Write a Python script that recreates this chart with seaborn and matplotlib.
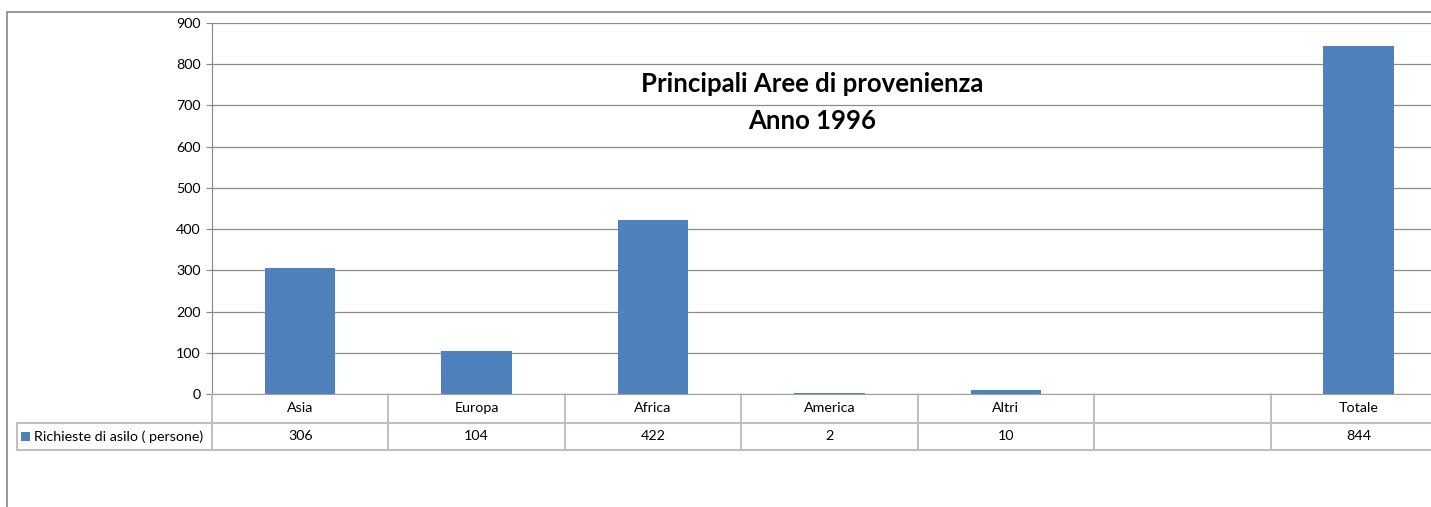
import pandas as pd
import seaborn as sns
import matplotlib.pyplot as plt
from matplotlib.lines import Line2D
from matplotlib.patches import Rectangle
from matplotlib.transforms import blended_transform_factory

# data
categories = ["Asia", "Europa", "Africa", "America", "Altri", " ", "Totale"]
values = [306, 104, 422, 2, 10, None, 844]
value_labels = ["306", "104", "422", "2", "10", "", "844"]
series_name = "Richieste di asilo ( persone)"
title = "Principali Aree di provenienza\nAnno 1996"

bar_color = "#4F81BD"
W, H = 1431, 507

sns.set_style("white")
plt.rcParams['font.family'] = ['Lato', 'DejaVu Sans']
plt.rcParams['text.color'] = 'black'
plt.rcParams['ytick.labelcolor'] = 'black'

df = pd.DataFrame({"area": categories, "val": values}).dropna()

fig = plt.figure(figsize=(W / 100, H / 100), dpi=100)
# plot area, pixel bounds of the original Excel chart
left, right, top, bottom = 212, 1447, 23, 394
ax = fig.add_axes([left / W, 1 - bottom / H, (right - left) / W, (bottom - top) / H])

sns.barplot(data=df, x="area", y="val", order=categories, color=bar_color,
            width=0.4, saturation=1, linewidth=0, ax=ax)

ax.set_xlim(-0.5, len(categories) - 0.5)
ax.set_ylim(0, 900)
ax.set_yticks(range(0, 901, 100))
ax.tick_params(axis='y', labelsize=10.3, labelcolor='black', length=4, width=0.8,
               color="#868686", pad=4, direction='out', left=True)
ax.set_xticks([])
ax.set_xlabel("")
ax.set_ylabel("")
ax.yaxis.grid(True, color="#8c8c8c", linewidth=0.9)
ax.set_axisbelow(True)
for s in ["top", "right"]:
    ax.spines[s].set_visible(False)
ax.spines["left"].set_color("#868686")
ax.spines["bottom"].set_color("#a0a0a0")

ax.text(0.486, 0.787, title, transform=ax.transAxes, ha="center", va="center",
        fontsize=18.5, fontweight="bold", linespacing=1.65, color="black")

# data table under the plot
tr = blended_transform_factory(ax.transData, fig.transFigure)
row_mid = 1 - 423 / H
row_bot = 1 - 450 / H
ax_bot = 1 - bottom / H
line_col = "#b4b4b4"
n = len(categories)
for i in range(n + 1):
    fig.add_artist(Line2D([i - 0.5, i - 0.5], [ax_bot, row_bot], transform=tr,
                          color=line_col, linewidth=1.2))
for yy in [row_mid, row_bot]:
    fig.add_artist(Line2D([17 / W, 1], [yy, yy], transform=fig.transFigure,
                          color="#c0c0c0", linewidth=1.5))
fig.add_artist(Line2D([17 / W, 17 / W], [row_mid, row_bot], transform=fig.transFigure,
                      color="#c0c0c0", linewidth=1.5))
for i, (c, v) in enumerate(zip(categories, value_labels)):
    fig.text(i, (ax_bot + row_mid) / 2, c, transform=tr, ha="center", va="center", fontsize=10.3)
    fig.text(i, (row_mid + row_bot) / 2, v, transform=tr, ha="center", va="center", fontsize=10.3)

fig.add_artist(Rectangle((21 / W, 1 - 441 / H), 9 / W, 9 / H, transform=fig.transFigure,
                         facecolor=bar_color, edgecolor="none"))
fig.text(34 / W, (row_mid + row_bot) / 2, series_name, ha="left", va="center", fontsize=10.3)

# outer chart frame
fig.add_artist(Rectangle((7 / W, -0.1), 1.2, 1 - 12 / H + 0.1, transform=fig.transFigure,
                         facecolor="none", edgecolor="#868686", linewidth=1.2))

fig.savefig("out.png", dpi=100)
